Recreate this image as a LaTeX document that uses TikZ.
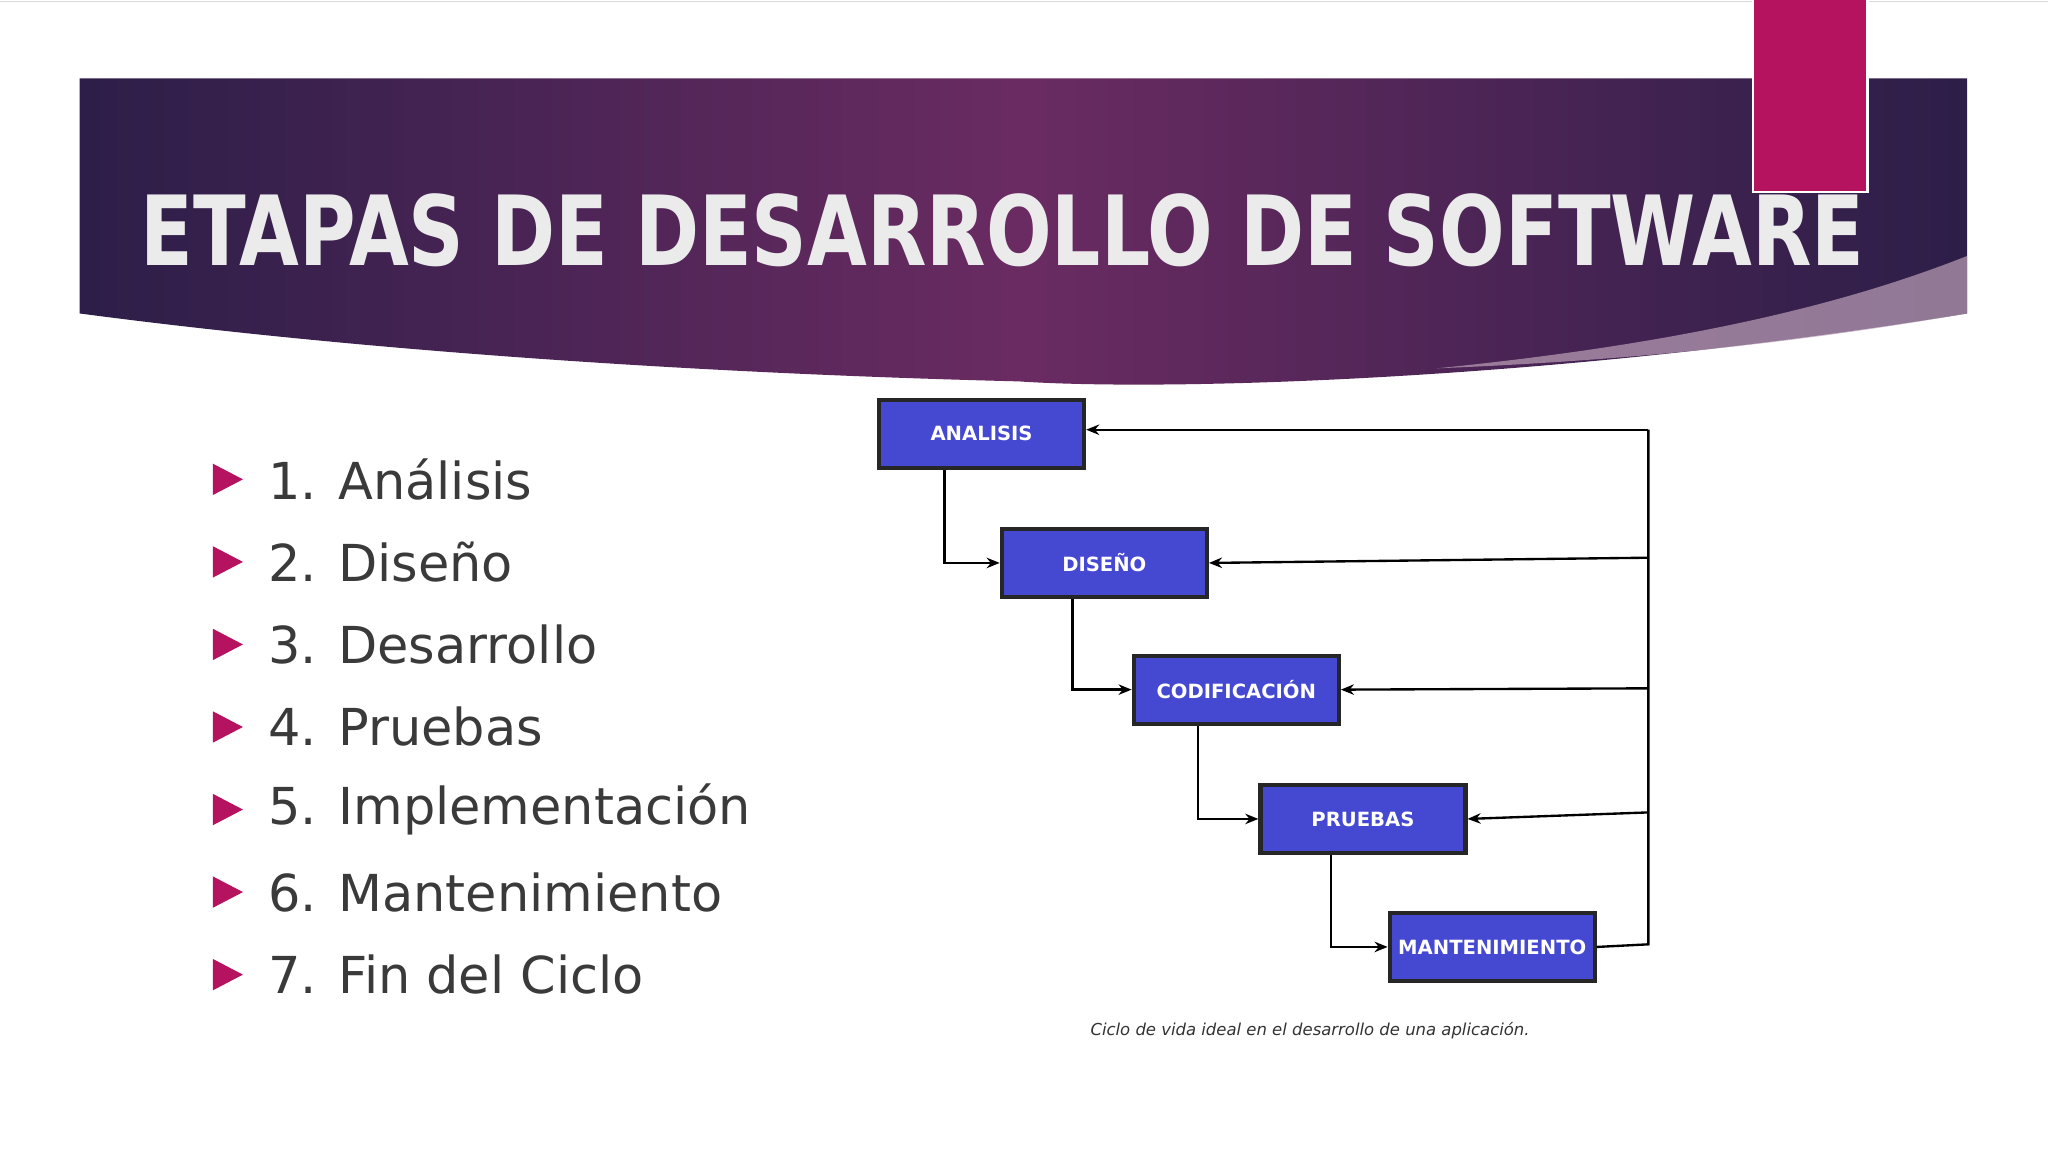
\documentclass[tikz,border=0pt]{standalone}
\usepackage{fontspec}
\setmainfont{DejaVu Sans}
\usetikzlibrary{arrows.meta}
\definecolor{hdark}{HTML}{2C1E48}
\definecolor{hmid}{HTML}{6A2B62}
\definecolor{pinkbar}{HTML}{B5135F}
\definecolor{boxblue}{HTML}{4549D2}
\definecolor{txtgrey}{HTML}{3A3A3A}
\tikzset{
  stage/.style={draw=black!85,line width=1.6pt,fill=boxblue,minimum width=78.5pt,minimum height=26pt,inner sep=0pt,text=white,font=\fontsize{7.5}{9}\selectfont\bfseries},
  conn/.style={line width=0.9pt,-{Stealth[length=5pt,width=4pt]}},
  bullet/.style={fill=pinkbar,draw=none},
  item/.style={anchor=west,text=txtgrey,font=\fontsize{19.5}{22}\selectfont,inner sep=0pt}
}
\begin{document}
\begin{tikzpicture}[x=0.5pt,y=-0.5pt]
\useasboundingbox (0,0) rectangle (1568,882);
\fill[white] (0,0) rectangle (1568,882);
\draw[black!15,line width=0.5pt] (0,1) -- (1568,1);
% header band
\shade[left color=hdark,right color=hdark,middle color=hmid] (61,60) -- (1506,60) -- (1506,240) .. controls (1200,290) and (900,300) .. (780,292) .. controls (500,285) and (250,265) .. (61,240) -- cycle;
\fill[white!55!hmid,opacity=0.7] (1100,282) .. controls (1300,262) and (1420,230) .. (1506,196) -- (1506,240) .. controls (1380,262) and (1250,276) .. (1100,282) -- cycle;
\fill[pinkbar,draw=white,line width=1pt] (1342,-2) rectangle (1430,147);
\node[anchor=south west,inner sep=0pt,text=white!92!black] (title) at (107,205) {\resizebox{660pt}{27.5pt}{\bfseries ETAPAS DE DESARROLLO DE SOFTWARE}};
% list
\foreach \t [count=\i] in {1. Análisis,2. Diseño,3. Desarrollo,4. Pruebas,5. Implementación,6. Mantenimiento,7. Fin del Ciclo}{
  \pgfmathsetmacro{\yy}{367+63.2*(\i-1)}
  \fill[bullet] (163,\yy-12) -- (186,\yy) -- (163,\yy+12) -- cycle;
  \node[item] (it\i) at (205,\yy) {\t};
}
% boxes
\node[stage] (an) at (751.5,332) {ANALISIS};
\node[stage] (di) at (845.5,431) {DISEÑO};
\node[stage] (co) at (946.5,528) {CODIFICACIÓN};
\node[stage] (pr) at (1043.5,627) {PRUEBAS};
\node[stage] (ma) at (1142.5,725) {MANTENIMIENTO};
\coordinate (vt) at (1262,329);
\coordinate (vb) at (1262,723);
\draw[conn] (an.south -| 723,0) |- (di.west);
\draw[conn] (di.south -| 821,0) |- (co.west);
\draw[conn] (co.south -| 917,0) |- (pr.west);
\draw[conn] (pr.south -| 1019,0) |- (ma.west);
\draw[line width=0.9pt] (ma.east) -- (vb) -- (vt);
\draw[conn] (vt) -- (an.east |- vt);
\draw[conn] (1262,427) -- (di.east);
\draw[conn] (1262,527) -- (co.east);
\draw[conn] (1262,622) -- (pr.east);
\node[font=\fontsize{6.3}{8}\selectfont\itshape,text=black!80] (cap) at (1003,789) {Ciclo de vida ideal en el desarrollo de una aplicación.};
\end{tikzpicture}
\end{document}
